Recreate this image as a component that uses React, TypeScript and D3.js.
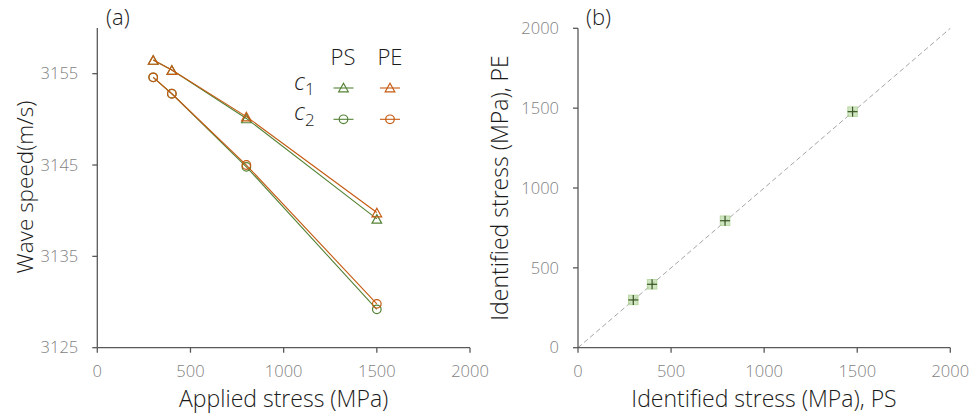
import React from "react";
import * as d3 from "d3";

const stress = [300, 400, 800, 1500];
const c1PS = [3156.5, 3155.4, 3150.1, 3139.1];
const c1PE = [3156.5, 3155.4, 3150.3, 3139.8];
const c2PS = [3154.6, 3152.8, 3144.8, 3129.2];
const c2PE = [3154.6, 3152.8, 3145.0, 3129.8];
const identPS = [297, 398, 790, 1475];
const identPE = [299, 397, 795, 1478];
const xTicksA = [0, 500, 1000, 1500, 2000];
const yTicksA = [3125, 3135, 3145, 3155];
const ticksB = [0, 500, 1000, 1500, 2000];

const GREEN = "#548235";
const ORANGE = "#C55A11";
const AXIS = "#595959";
const TICKTXT = "#7f7f7f";
const TXT = "#1a1a1a";
const FONT = "'Open Sans', sans-serif";

const xA = d3.scaleLinear().domain([0, 2000]).range([97.3, 470]);
const yA = d3.scaleLinear().domain([3125, 3160]).range([347.7, 28]);
const xB = d3.scaleLinear().domain([0, 2000]).range([578, 950.3]);
const yB = d3.scaleLinear().domain([0, 2000]).range([347.7, 28.3]);

function tri(x: number, y: number, w = 9.6, h = 8.6) {
  return `M${x},${y - h / 2}L${x + w / 2},${y + h / 2}L${x - w / 2},${y + h / 2}Z`;
}

function Series({ vals, color, shape }: { vals: number[]; color: string; shape: "tri" | "circ" }) {
  const line = d3.line<number>().x((_, i) => xA(stress[i])).y((d) => yA(d));
  return (
    <g>
      <path d={line(vals) || ""} fill="none" stroke={color} strokeWidth={1.1} />
      {vals.map((v, i) =>
        shape === "tri" ? (
          <path key={i} d={tri(xA(stress[i]), yA(v))} fill="none" stroke={color} strokeWidth={1.2} />
        ) : (
          <circle key={i} cx={xA(stress[i])} cy={yA(v)} r={4.3} fill="none" stroke={color} strokeWidth={1.2} />
        )
      )}
    </g>
  );
}

function LegendItem({ x, y, color, shape }: { x: number; y: number; color: string; shape: "tri" | "circ" }) {
  return (
    <g>
      <line x1={x - 10} x2={x + 10} y1={y} y2={y} stroke={color} strokeWidth={1.1} />
      {shape === "tri" ? (
        <path d={tri(x, y - 0.5)} fill="none" stroke={color} strokeWidth={1.2} />
      ) : (
        <circle cx={x} cy={y} r={4.3} fill="none" stroke={color} strokeWidth={1.2} />
      )}
    </g>
  );
}

export default function App() {
  const diag = d3.line<number>().x((d) => xB(d)).y((d) => yB(d));
  return (
    <svg width={972} height={415} style={{ position: "absolute", left: 0, top: 0, background: "#fff" }} fontFamily={FONT} fontWeight={350}>
      {/* Panel (a) */}
      <text x={106} y={25} fontSize={22} fill={TXT}>(a)</text>
      <line x1={xA(0)} x2={xA(0)} y1={28} y2={yA(3125)} stroke={AXIS} strokeWidth={1.3} />
      <line x1={xA(0)} x2={xA(2000)} y1={yA(3125)} y2={yA(3125)} stroke={AXIS} strokeWidth={1.3} />
      {yTicksA.map((t) => (
        <g key={t}>
          <line x1={xA(0) - 5} x2={xA(0)} y1={yA(t)} y2={yA(t)} stroke={AXIS} strokeWidth={1.3} />
          <text x={xA(0) - 19} y={yA(t)} dy="0.35em" textAnchor="end" fontSize={16.5} fill={TICKTXT}>{t}</text>
        </g>
      ))}
      {xTicksA.map((t) => (
        <g key={t}>
          <line x1={xA(t)} x2={xA(t)} y1={yA(3125)} y2={yA(3125) + 5} stroke={AXIS} strokeWidth={1.3} />
          <text x={xA(t)} y={yA(3125) + 28.8} textAnchor="middle" fontSize={16.5} fill={TICKTXT}>{t}</text>
        </g>
      ))}
      <text x={283.7} y={406.5} textAnchor="middle" fontSize={23} fill={TXT}>Applied stress (MPa)</text>
      <text transform={`translate(33,${187}) rotate(-90)`} textAnchor="middle" fontSize={22.5} fill={TXT}>Wave speed(m/s)</text>

      <Series vals={c1PS} color={GREEN} shape="tri" />
      <Series vals={c2PS} color={GREEN} shape="circ" />
      <Series vals={c1PE} color={ORANGE} shape="tri" />
      <Series vals={c2PE} color={ORANGE} shape="circ" />

      {/* legend */}
      <text x={343} y={65} textAnchor="middle" fontSize={22} fill={TXT}>PS</text>
      <text x={390} y={65} textAnchor="middle" fontSize={22} fill={TXT}>PE</text>
      <text x={294} y={90} fontSize={24} fontStyle="italic" fill={TXT}>c<tspan fontSize={17} fontStyle="normal" dy={5}>1</tspan></text>
      <text x={294} y={120} fontSize={24} fontStyle="italic" fill={TXT}>c<tspan fontSize={17} fontStyle="normal" dy={6}>2</tspan></text>
      <LegendItem x={343.5} y={88} color={GREEN} shape="tri" />
      <LegendItem x={390} y={88} color={ORANGE} shape="tri" />
      <LegendItem x={343.5} y={119.3} color={GREEN} shape="circ" />
      <LegendItem x={390} y={119.3} color={ORANGE} shape="circ" />

      {/* Panel (b) */}
      <text x={586} y={25} fontSize={22} fill={TXT}>(b)</text>
      <path d={diag([0, 2000]) || ""} stroke="#a6a6a6" strokeWidth={1} strokeDasharray="5,3" fill="none" />
      <line x1={xB(0)} x2={xB(0)} y1={yB(2000)} y2={yB(0)} stroke={AXIS} strokeWidth={1.3} />
      <line x1={xB(0)} x2={xB(2000)} y1={yB(0)} y2={yB(0)} stroke={AXIS} strokeWidth={1.3} />
      {ticksB.map((t) => (
        <g key={"y" + t}>
          <line x1={xB(0) - 5} x2={xB(0)} y1={yB(t)} y2={yB(t)} stroke={AXIS} strokeWidth={1.3} />
          <text x={xB(0) - 19} y={yB(t)} dy="0.35em" textAnchor="end" fontSize={16.5} fill={TICKTXT}>{t}</text>
        </g>
      ))}
      {ticksB.map((t) => (
        <g key={"x" + t}>
          <line x1={xB(t)} x2={xB(t)} y1={yB(0)} y2={yB(0) + 5} stroke={AXIS} strokeWidth={1.3} />
          <text x={xB(t)} y={yB(0) + 28.8} textAnchor="middle" fontSize={16.5} fill={TICKTXT}>{t}</text>
        </g>
      ))}
      <text x={764} y={406.5} textAnchor="middle" fontSize={23} fill={TXT}>Identified stress (MPa), PS</text>
      <text transform={`translate(508,${188}) rotate(-90)`} textAnchor="middle" fontSize={23} fill={TXT}>Identified stress (MPa), PE</text>
      {identPS.map((v, i) => {
        const cx = xB(v);
        const cy = yB(identPE[i]);
        return (
          <g key={i}>
            <rect x={cx - 4.8} y={cy - 4.8} width={9.6} height={9.6} fill="#a9d08e" fillOpacity={0.55} stroke="#a9d08e" strokeOpacity={0.7} strokeWidth={1} />
            <line x1={cx - 5} x2={cx + 5} y1={cy} y2={cy} stroke="#375623" strokeWidth={1.2} />
            <line x1={cx} x2={cx} y1={cy - 5} y2={cy + 5} stroke="#375623" strokeWidth={1.2} />
          </g>
        );
      })}
    </svg>
  );
}
